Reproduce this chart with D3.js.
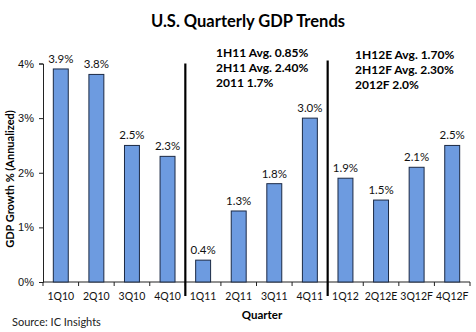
<!DOCTYPE html>
<html>
<head>
<meta charset="utf-8">
<script src="https://cdn.jsdelivr.net/npm/d3@7"></script>
<style>
  body { margin: 0; background: #fff; }
  svg { font-family: Lato, "Open Sans", sans-serif; }
  .axis path, .axis line { stroke: #222; }
  .axis text { font-size: 11px; fill: #111; }
</style>
</head>
<body>
<svg id="chart" width="476" height="332"></svg>
<script>
const quarters = ["1Q10", "2Q10", "3Q10", "4Q10", "1Q11", "2Q11", "3Q11", "4Q11",
  "1Q12", "2Q12E", "3Q12F", "4Q12F"];
const growth = [3.9, 3.8, 2.5, 2.3, 0.4, 1.3, 1.8, 3.0, 1.9, 1.5, 2.1, 2.5];
const yTicks = [0, 1, 2, 3, 4];
const notes2011 = ["1H11 Avg. 0.85%", "2H11 Avg. 2.40%", "2011 1.7%"];
const notes2012 = ["1H12E Avg. 1.70%", "2H12F Avg. 2.30%", "2012F 2.0%"];
const dividers = [4, 8]; // category index where a divider line sits

const svg = d3.select("#chart"),
  margin = { top: 63.5, right: 6, bottom: 50, left: 43 },
  width = 476 - margin.left - margin.right,
  height = 332 - margin.top - margin.bottom,
  g = svg.append("g").attr("transform", `translate(${margin.left},${margin.top})`);

const x = d3.scaleBand().domain(quarters).range([0, width]).paddingInner(0.58).paddingOuter(0.29);
const y = d3.scaleLinear().domain([0, 4]).range([height, 0]);

svg.append("text")
  .attr("x", 248).attr("y", 27)
  .attr("text-anchor", "middle")
  .style("font-size", "16.5px").style("font-weight", "bold")
  .text("U.S. Quarterly GDP Trends");

// y axis
g.append("g")
  .attr("class", "axis")
  .call(d3.axisLeft(y).tickValues(yTicks).tickSize(4).tickPadding(5).tickFormat((d) => d + "%"));

// x axis, ticks on category boundaries
const step = x.step();
const xAxis = g.append("g")
  .attr("class", "axis")
  .attr("transform", `translate(0,${height})`);
xAxis.append("line").attr("x1", 0).attr("x2", width).attr("stroke", "#222");
xAxis.selectAll(".tk")
  .data(d3.range(quarters.length + 1))
  .join("line")
  .attr("x1", (i) => i * step).attr("x2", (i) => i * step)
  .attr("y1", 0).attr("y2", 4)
  .attr("stroke", "#222");
xAxis.selectAll(".lbl")
  .data(quarters)
  .join("text")
  .attr("x", (d) => x(d) + x.bandwidth() / 2)
  .attr("y", 18)
  .attr("text-anchor", "middle")
  .style("font-size", "10.5px")
  .text((d) => d);

// bars
g.selectAll(".bar")
  .data(growth)
  .join("rect")
  .attr("x", (d, i) => x(quarters[i]))
  .attr("y", (d) => y(d))
  .attr("width", x.bandwidth())
  .attr("height", (d) => height - y(d))
  .attr("fill", "#6d9be0")
  .attr("stroke", "#1c2a45")
  .attr("stroke-width", 1);

g.selectAll(".val")
  .data(growth)
  .join("text")
  .attr("x", (d, i) => x(quarters[i]) + x.bandwidth() / 2)
  .attr("y", (d) => y(d) - 6)
  .attr("text-anchor", "middle")
  .style("font-size", "11.5px").attr("fill", "#111")
  .text((d) => d.toFixed(1) + "%");

// dividers
g.selectAll(".div")
  .data(dividers)
  .join("line")
  .attr("x1", (i) => i * step).attr("x2", (i) => i * step)
  .attr("y1", (d, k) => (k === 0 ? 0 : -3))
  .attr("y2", height + 14)
  .attr("stroke", "#000").attr("stroke-width", 2.2);

// notes
const noteBlocks = [
  { lines: notes2011, x: 216 - margin.left, y: 57 - margin.top },
  { lines: notes2012, x: 355 - margin.left, y: 59 - margin.top }
];
noteBlocks.forEach((b) => {
  g.append("text")
    .attr("transform", `translate(${b.x},${b.y})`)
    .style("font-size", "12px").style("font-weight", "bold")
    .selectAll("tspan")
    .data(b.lines)
    .join("tspan")
    .attr("x", 0)
    .attr("y", (d, i) => i * 15)
    .text((d) => d);
});

// axis titles
svg.append("text")
  .attr("transform", `translate(14,179) rotate(-90)`)
  .attr("text-anchor", "middle")
  .style("font-size", "11px").style("font-weight", "bold")
  .text("GDP Growth % (Annualized)");

svg.append("text")
  .attr("x", 262).attr("y", 319)
  .attr("text-anchor", "middle")
  .style("font-size", "11.5px").style("font-weight", "bold")
  .text("Quarter");

svg.append("text")
  .attr("x", 12).attr("y", 326)
  .style("font-size", "11px").attr("fill", "#222")
  .text("Source: IC Insights");
</script>
</body>
</html>
